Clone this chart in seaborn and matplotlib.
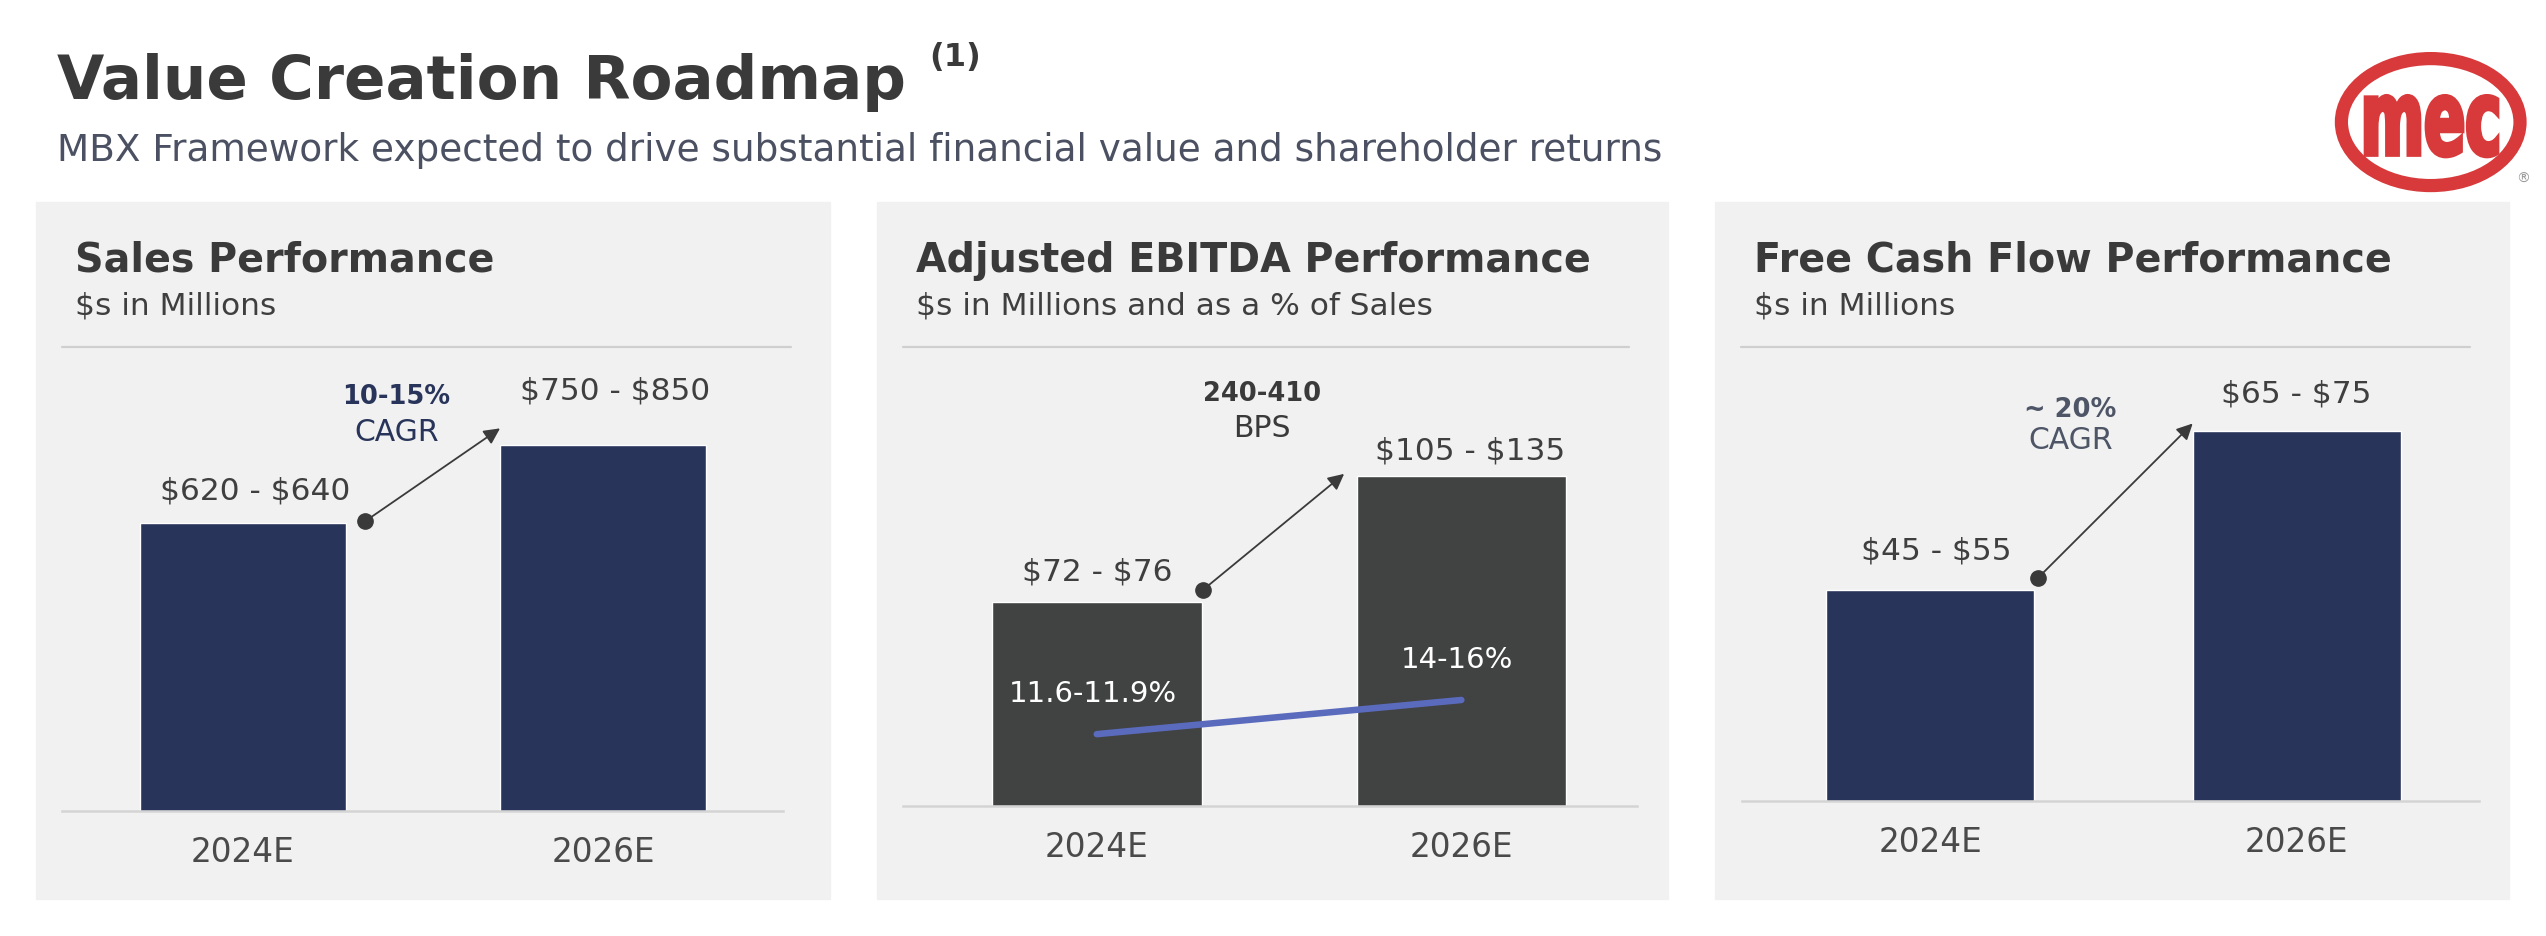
import numpy as np
import matplotlib.pyplot as plt
import seaborn as sns
from matplotlib.patches import Rectangle, Ellipse, PathPatch
from matplotlib.lines import Line2D
from matplotlib.textpath import TextPath
from matplotlib.font_manager import FontProperties
from matplotlib.transforms import Affine2D

# data
years = ['2024E', '2026E']
sales_mid = [630, 800]
sales_labels = ['$620 - $640', '$750 - $850']
ebitda_mid = [74, 120]
ebitda_labels = ['$72 - $76', '$105 - $135']
margin_mid = [11.75, 15.0]
margin_labels = ['11.6-11.9%', '14-16%']
fcf_bar = [40, 70]
fcf_labels = ['$45 - $55', '$65 - $75']

NAVY = '#283459'
DARK = '#414242'
BLUE = '#5a6bbd'
PANEL = '#f1f1f1'
TEXT = '#3f3f3f'
RED = '#d8393a'

sns.set_style('white')
plt.rcParams['font.family'] = ['DejaVu Sans']
plt.rcParams['text.parse_math'] = False

# layout grid: reference pixels / 1.624
W, H = 1568, 575


def fx(x):
    return x / W


def fy(y):
    return 1 - y / H


fig = plt.figure(figsize=(25.46, 9.36), dpi=100)

fig.text(fx(35), fy(61), 'Value Creation Roadmap', fontsize=44, fontweight='bold',
         color='#3a3a3a', va='baseline')
fig.text(fx(572), fy(26), '(1)', fontsize=23, fontweight='bold', color='#3a3a3a', va='top')
fig.text(fx(35), fy(99), 'MBX Framework expected to drive substantial financial value and shareholder returns',
         fontsize=26.9, color='#4b5162', va='baseline')

# logo
fig.add_artist(Ellipse((fx(1497), fy(75)), width=fx(110), height=78 / H, transform=fig.transFigure,
                       fill=False, ec=RED, lw=9.5))
tp = TextPath((0, 0), 'mec', size=100, prop=FontProperties(family='DejaVu Sans', weight='bold'))
bb = tp.get_extents()
tr = (Affine2D().translate(-bb.x0, -bb.y0)
      .scale((fx(1538) - fx(1457)) / bb.width, (fy(59) - fy(96)) / bb.height)
      .translate(fx(1457), fy(96)) + fig.transFigure)
fig.add_artist(PathPatch(tp, transform=tr, fc=RED, ec=RED, lw=3))
fig.text(fx(1554), fy(110), '®', fontsize=10, color='#9a9a9a', ha='center', va='center')


def make_panel(px0, px1, ax0, ax1, base, title, sub):
    fig.add_artist(Rectangle((fx(px0), fy(552)), fx(px1 - px0), (552 - 124) / H,
                             transform=fig.transFigure, color=PANEL, zorder=0))
    fig.text(fx(px0 + 24), fy(167), title, fontsize=28.5, fontweight='bold', color='#3a3a3a', va='baseline')
    fig.text(fx(px0 + 24), fy(193), sub, fontsize=22.5, color=TEXT, va='baseline')
    fig.add_artist(Line2D([fx(px0 + 16), fx(px1 - 24)], [fy(213), fy(213)], transform=fig.transFigure,
                          color='#cfcfcf', lw=1.6))
    ax = fig.add_axes([fx(ax0), fy(base), fx(ax1 - ax0), (base - 230) / H])
    ax.set_facecolor('none')
    return ax


def style(ax, xlim, ytop):
    ax.set_xlim(*xlim)
    ax.set_ylim(0, ytop)
    for s in ['top', 'right', 'left']:
        ax.spines[s].set_visible(False)
    ax.spines['bottom'].set_color('#d4d4d4')
    ax.spines['bottom'].set_linewidth(1.8)
    ax.set_yticks([])
    ax.set_xlabel('')
    ax.set_ylabel('')
    ax.tick_params(axis='x', length=0, pad=18, labelsize=23.5, labelcolor='#4a4a4a')


def bar_labels(ax, vals, labels, offs, dx=(0, 0)):
    for i, (v, lbl) in enumerate(zip(vals, labels)):
        ax.annotate(lbl, (i, v), xytext=(dx[i], offs[i]), textcoords='offset points',
                    ha='center', va='center', fontsize=22.5, color=TEXT)


def growth_arrow(ax, vals, width, dx, dy0, dx1, dy1):
    x0, y0 = width / 2 + dx, vals[0] + dy0
    x1, y1 = 1 - width / 2 - dx1, vals[1] + dy1
    ax.annotate('', xy=(x1, y1), xytext=(x0, y0),
                arrowprops=dict(arrowstyle='-|>', color='#3a3a3a', lw=1.3, mutation_scale=24,
                                shrinkA=0, shrinkB=0))
    ax.plot(x0, y0, 'o', ms=11, color='#3a3a3a', clip_on=False)


def growth_text(ax, x, y1, y2, t1, t2, color):
    ax.text(x, y1, t1, transform=ax.transAxes, ha='center', va='center',
            fontsize=18.5, fontweight='bold', color=color)
    ax.text(x, y2, t2, transform=ax.transAxes, ha='center', va='center',
            fontsize=21.5, color=color)


# Sales Performance
w1 = 0.572
ax = make_panel(22, 511, 38, 482, 498, 'Sales Performance', '$s in Millions')
sns.barplot(x=years, y=sales_mid, ax=ax, color=NAVY, saturation=1, width=w1)
style(ax, (-0.502, 1.498), 954)
bar_labels(ax, sales_mid, sales_labels, [23, 39], dx=(9, 9))
growth_arrow(ax, sales_mid, w1, 0.054, 3, 0, 36)
growth_text(ax, 0.464, 0.948, 0.866, '10-15%', 'CAGR', NAVY)

# Adjusted EBITDA Performance
w2 = 0.575
ax = make_panel(540, 1027, 556, 1008, 495, 'Adjusted EBITDA Performance',
                '$s in Millions and as a % of Sales')
sns.barplot(x=years, y=ebitda_mid, ax=ax, color=DARK, saturation=1, width=w2)
style(ax, (-0.532, 1.481), 157)
bar_labels(ax, ebitda_mid, ebitda_labels, [22, 18], dx=(0, 6))
growth_arrow(ax, ebitda_mid, w2, 0.005, 4.7, 0.034, 0.8)
growth_text(ax, 0.489, 0.955, 0.875, '240-410', 'BPS', '#3a3a3a')
ax2 = ax.twinx()
sns.lineplot(x=np.arange(len(years)), y=margin_mid, ax=ax2, color=BLUE, lw=4.7,
             solid_capstyle='round')
ax2.set_ylim(4.94, 45.96)
ax2.set_axis_off()
for i, (m, lbl) in enumerate(zip(margin_mid, margin_labels)):
    ax2.annotate(lbl, (i, m), xytext=(-3, 29), textcoords='offset points',
                 ha='center', va='center', fontsize=21, color='white')

# Free Cash Flow Performance
w3 = 0.568
ax = make_panel(1056, 1545, 1073, 1527, 492, 'Free Cash Flow Performance', '$s in Millions')
sns.barplot(x=years, y=fcf_bar, ax=ax, color=NAVY, saturation=1, width=w3)
style(ax, (-0.514, 1.499), 80.8)
bar_labels(ax, fcf_bar, fcf_labels, [28, 27], dx=(4, 0))
growth_arrow(ax, fcf_bar, w3, 0.009, 2.2, 0, 1.5)
growth_text(ax, 0.445, 0.916, 0.844, '~ 20%', 'CAGR', '#4d5566')

plt.savefig('out.png', dpi=100)
